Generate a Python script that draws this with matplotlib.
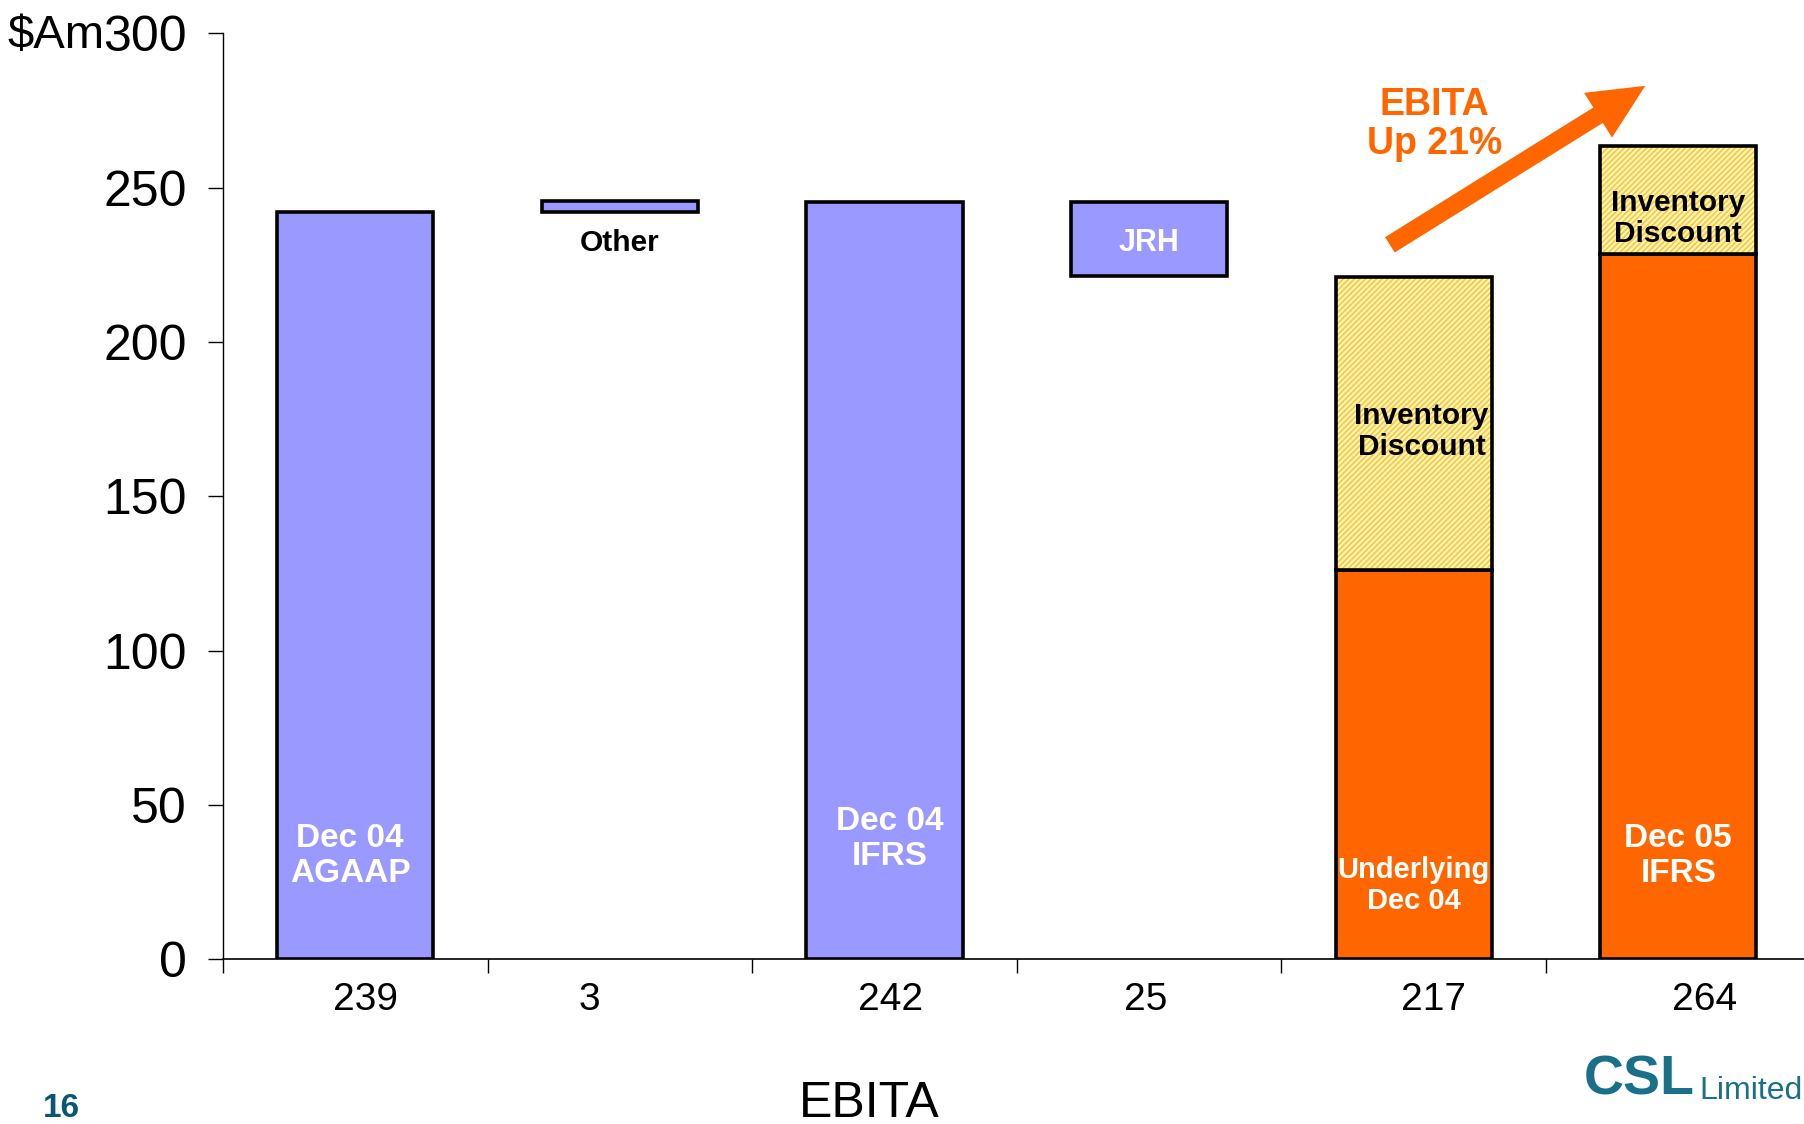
import numpy as np
import matplotlib
matplotlib.use('Agg')
import matplotlib.pyplot as plt
from matplotlib.transforms import ScaledTranslation

plt.rcParams['font.family'] = ['Liberation Sans', 'DejaVu Sans']
plt.rcParams['hatch.linewidth'] = 1.2

# bar values ($Am)
tick_labels = ['239', '3', '242', '25', '217', '264']
bar_bottoms = [0, 242, 0, 221.5, 0, 0]
bar_tops = [242, 245.8, 245.5, 245.5, 126, 228.5]
bar_colors = ['#9999FF', '#9999FF', '#9999FF', '#9999FF', '#FF6600', '#FF6600']
# hatched "Inventory Discount" segments on the last two bars
disc_idx = [4, 5]
disc_low = [126, 228.5]
disc_high = [221, 263.5]

x = np.arange(len(tick_labels))
w = 0.59

fig = plt.figure(figsize=(18.04, 11.24), dpi=100)
ax = fig.add_axes([0.1236, 0.1464, 0.8764, 0.8239])

heights = [t - b for t, b in zip(bar_tops, bar_bottoms)]
ax.bar(x, heights, bottom=bar_bottoms, width=w, color=bar_colors,
       edgecolor='black', linewidth=2.6, zorder=3)

dx = x[disc_idx]
dh = [h - l for h, l in zip(disc_high, disc_low)]
ax.bar(dx, dh, bottom=disc_low, width=w, color='#FFF6B8', edgecolor='#F7C840',
       linewidth=0, hatch='//////', zorder=3)
ax.bar(dx, dh, bottom=disc_low, width=w, color='none', edgecolor='black',
       linewidth=2.6, zorder=4)

# text inside / near bars
wb = dict(color='white', fontsize=24, fontweight='bold', ha='center', va='center',
          linespacing=1.15, zorder=5)
bb = dict(color='black', fontsize=21.5, fontweight='bold', ha='center', va='center',
          linespacing=1.12, zorder=5)
ax.text(-0.02, 33.5, 'Dec 04\nAGAAP', **wb)
ax.text(2.02, 39, 'Dec 04\nIFRS', **wb)
ax.text(4, 24, 'Underlying\nDec 04', **dict(wb, fontsize=21))
ax.text(5, 33.5, 'Dec 05\nIFRS', **wb)
ax.text(3, 232, 'JRH', **dict(wb, fontsize=22))
ax.text(1, 232, 'Other', **bb)
ax.text(4.03, 171, 'Inventory\nDiscount', **bb)
ax.text(5, 240, 'Inventory\nDiscount', **bb)

ax.text(4.08, 270.5, 'EBITA\nUp 21%', color='#FF6600', fontsize=27, fontweight='bold',
        ha='center', va='center', linespacing=1.1, zorder=5)
ax.annotate('', xy=(4.875, 283), xytext=(3.91, 231.5),
            arrowprops=dict(facecolor='#FF6600', edgecolor='none', width=13,
                            headwidth=38, headlength=40, shrink=0), zorder=5)

ax.set_xlim(-0.5, 5.475)
ax.set_ylim(0, 300)
ax.set_yticks(range(0, 301, 50))
ax.tick_params(axis='y', labelsize=36, length=11, width=1, pad=15)
ax.set_xticks(x)
ax.set_xticklabels(tick_labels, fontsize=28)
ax.set_xticks(np.arange(-0.5, 5.5, 1), minor=True)
ax.tick_params(axis='x', which='major', length=0, pad=16)
ax.tick_params(axis='x', which='minor', length=10, width=1)
# the labels sit a little off-centre in the original
label_shift = [10, -31, 6, -3, 20, 26]
for lab, s in zip(ax.get_xticklabels(), label_shift):
    lab.set_transform(lab.get_transform() + ScaledTranslation(s / 100, 0, fig.dpi_scale_trans))
for s in ['top', 'right']:
    ax.spines[s].set_visible(False)
ax.spines['left'].set_linewidth(1)
ax.spines['bottom'].set_linewidth(1.2)

fig.text(0.004, 0.968, '$Am', fontsize=34, ha='left', va='center')
fig.text(0.482, 0.006, 'EBITA', fontsize=36, ha='center', va='baseline')
fig.text(0.024, 0.0, '16', fontsize=24, fontweight='bold', color='#0B5670',
         ha='left', va='bottom')
fig.text(0.878, 0.016, 'CSL', fontsize=40, fontweight='bold', color='#1A7088',
         ha='left', va='bottom')
fig.text(0.942, 0.016, 'Limited', fontsize=23, color='#1A7088', ha='left', va='bottom')

fig.savefig('out.png', dpi=100)
